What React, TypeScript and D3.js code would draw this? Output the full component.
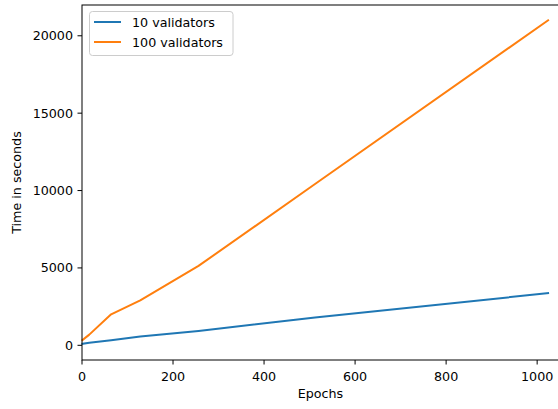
import React, { useEffect, useRef } from "react";
import * as d3 from "d3";

const epochs = [1, 16, 64, 128, 256, 512, 1024];
const tenValidators = [100, 170, 330, 570, 930, 1790, 3370];
const hundredValidators = [340, 690, 2000, 2900, 5130, 10420, 21000];
const xTicks = [0, 200, 400, 600, 800, 1000];
const yTicks = [0, 5000, 10000, 15000, 20000];
const seriesNames = ["10 validators", "100 validators"];
const colors = ["#1f77b4", "#ff7f0e"];

export default function App() {
  const ref = useRef<SVGSVGElement>(null);

  useEffect(() => {
    const width = 558;
    const height = 409;
    const margin = { top: 5, right: -1, bottom: 49, left: 82 };
    const font = "DejaVu Sans, sans-serif";
    const fs = 12.7;

    const svg = d3.select(ref.current);
    svg.selectAll("*").remove();
    svg.attr("width", width).attr("height", height);

    const x = d3.scaleLinear().domain([0, 1048]).range([margin.left, width - margin.right]);
    const y = d3.scaleLinear().domain([-950, 21990]).range([height - margin.bottom, margin.top]);

    const line = d3.line<[number, number]>()
      .x(d => x(d[0]))
      .y(d => y(d[1]));

    const series = [tenValidators, hundredValidators];
    series.forEach((vals, i) => {
      svg.append("path")
        .datum(epochs.map((e, j) => [e, vals[j]] as [number, number]))
        .attr("fill", "none")
        .attr("stroke", colors[i])
        .attr("stroke-width", 2)
        .attr("stroke-linejoin", "round")
        .attr("stroke-linecap", "square")
        .attr("d", line);
    });

    // spines
    const x0 = x(0), x1 = x(1048), yb = y(-950), yt = y(21990);
    svg.append("rect")
      .attr("x", x0).attr("y", yt)
      .attr("width", x1 - x0).attr("height", yb - yt)
      .attr("fill", "none").attr("stroke", "#000").attr("stroke-width", 1);

    // x axis
    const gx = svg.append("g");
    xTicks.forEach(t => {
      gx.append("line")
        .attr("x1", x(t)).attr("x2", x(t))
        .attr("y1", yb).attr("y2", yb + 4.5)
        .attr("stroke", "#000");
      gx.append("text")
        .attr("x", x(t)).attr("y", yb + 11)
        .attr("dy", "0.76em")
        .attr("text-anchor", "middle")
        .attr("font-family", font).attr("font-size", fs)
        .text(t);
    });
    gx.append("text")
      .attr("x", (x0 + x1) / 2).attr("y", yb + 28)
      .attr("dy", "0.76em")
      .attr("text-anchor", "middle")
      .attr("font-family", font).attr("font-size", fs)
      .text("Epochs");

    // y axis
    const gy = svg.append("g");
    yTicks.forEach(t => {
      gy.append("line")
        .attr("x1", x0 - 4.5).attr("x2", x0)
        .attr("y1", y(t)).attr("y2", y(t))
        .attr("stroke", "#000");
      gy.append("text")
        .attr("x", x0 - 9).attr("y", y(t))
        .attr("dy", "0.36em")
        .attr("text-anchor", "end")
        .attr("font-family", font).attr("font-size", fs)
        .text(t);
    });
    gy.append("text")
      .attr("transform", `translate(21,${(yt + yb) / 2}) rotate(-90)`)
      .attr("text-anchor", "middle")
      .attr("font-family", font).attr("font-size", fs)
      .text("Time in seconds");

    // legend
    const lg = svg.append("g");
    lg.append("rect")
      .attr("x", 89.5).attr("y", 11.5)
      .attr("width", 143.5).attr("height", 44)
      .attr("rx", 3)
      .attr("fill", "#fff").attr("fill-opacity", 0.8)
      .attr("stroke", "#ccc");
    seriesNames.forEach((name, i) => {
      const ly = 22 + i * 20;
      lg.append("line")
        .attr("x1", 94).attr("x2", 121)
        .attr("y1", ly).attr("y2", ly)
        .attr("stroke", colors[i]).attr("stroke-width", 2);
      lg.append("text")
        .attr("x", 132).attr("y", ly)
        .attr("dy", "0.36em")
        .attr("font-family", font).attr("font-size", fs)
        .text(name);
    });
  }, []);

  return (
    <div style={{ position: "absolute", left: 0, top: 0 }}>
      <svg ref={ref} style={{ display: "block" }}></svg>
    </div>
  );
}
